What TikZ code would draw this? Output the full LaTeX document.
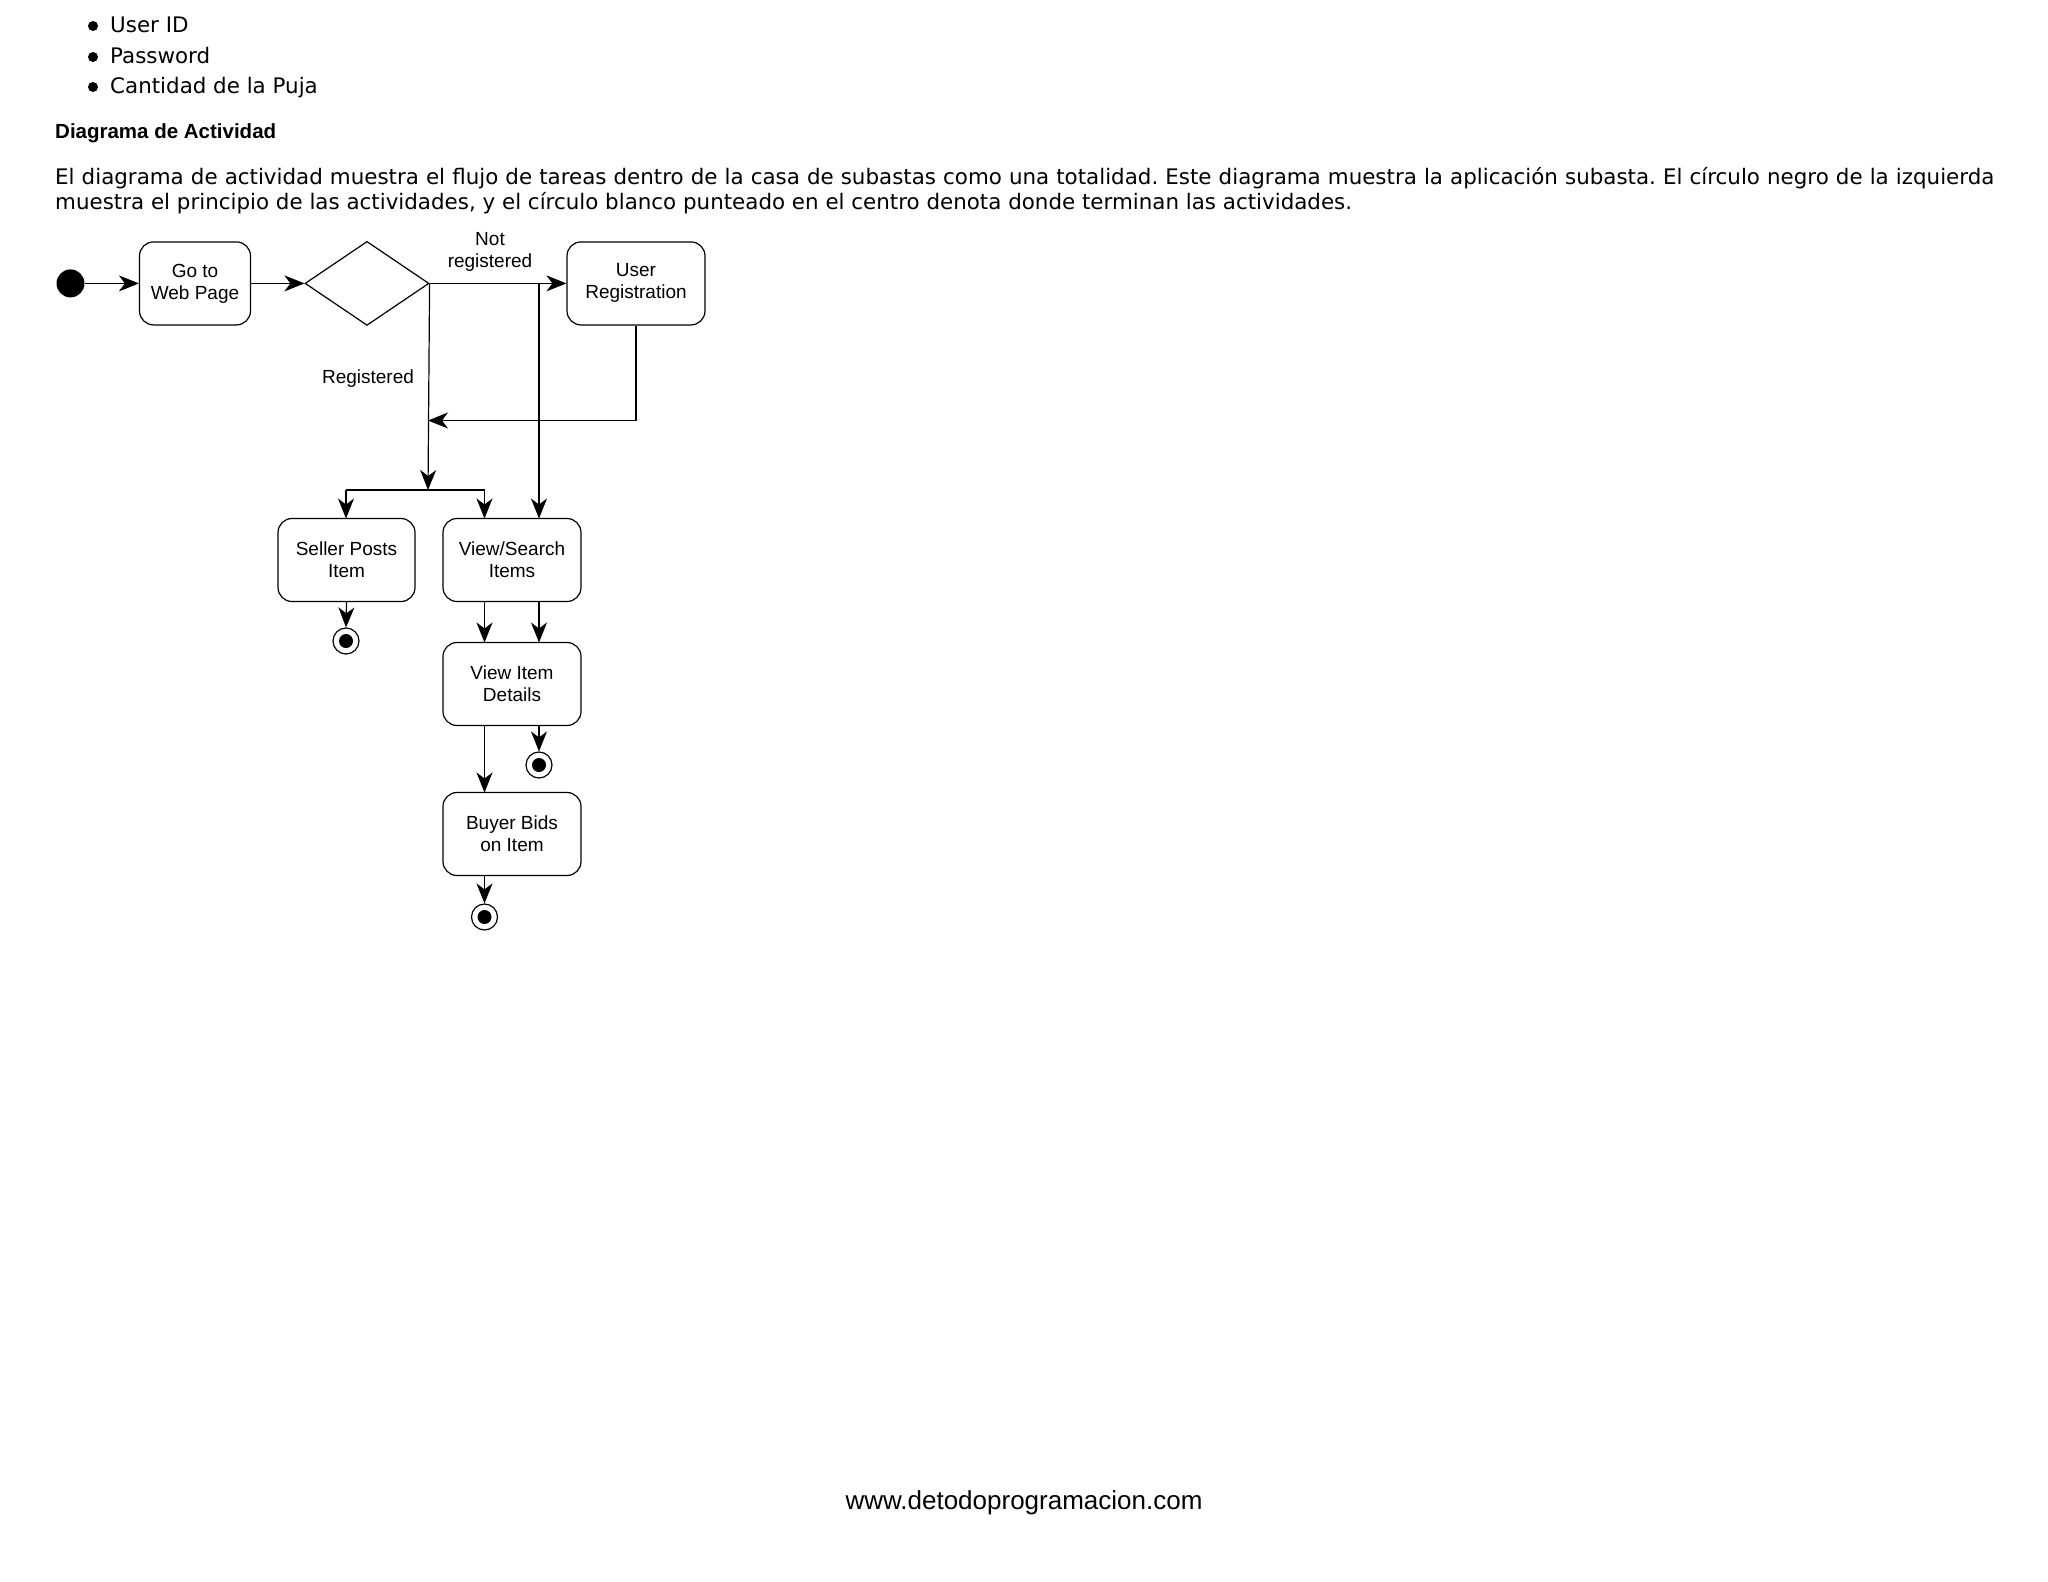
\documentclass[tikz,border=0pt]{standalone}
\usepackage{fontspec}
\setmainfont{DejaVu Sans}
\newfontfamily\arialf{Liberation Sans}
\usetikzlibrary{arrows.meta,shapes.geometric}
\frenchspacing
\begin{document}
\begin{tikzpicture}[x=1pt,y=-1pt,
  act/.style={draw,rounded corners=14pt,minimum width=111pt,minimum height=83pt,align=center,font=\arialf\fontsize{19}{22}\selectfont,line width=1.2pt,inner sep=0},
  flow/.style={line width=1.2pt,-{Stealth[length=20pt,width=16pt,inset=6pt]}},
  ln/.style={line width=1.2pt},
  body/.style={anchor=base west,inner sep=0,font=\fontsize{21.4}{25}\selectfont},
  lab/.style={font=\arialf\fontsize{19}{22}\selectfont,align=center,inner sep=0}]
\useasboundingbox (0,0) rectangle (2048,1582);
\fill[white] (0,0) rectangle (2048,1582);
% bullets
\foreach \t/\y [count=\i] in {User ID/32,Password/63,Cantidad de la Puja/93}{
  \fill (93,\y-6) circle (5);
  \node[body] (b\i) at (110,\y) {\t};
}
\node[anchor=base west,inner sep=0,font=\arialf\bfseries\fontsize{20.5}{24}\selectfont] (h) at (55,138) {Diagrama de Actividad};
\node[body] (p1) at (55,184) {\makebox[1939pt][s]{El diagrama de actividad muestra el flujo de tareas dentro de la casa de subastas como una totalidad. Este diagrama muestra la aplicación subasta. El círculo negro de la izquierda}};
\node[body] (p2) at (55,209) {muestra el principio de las actividades, y el círculo blanco punteado en el centro denota donde terminan las actividades.};
% diagram
\fill (70.5,283.4) circle (14);
\node[circle,inner sep=0,minimum size=28pt] (start) at (70.5,283.4) {};
\node[act] (go) at (195,283.4) {Go to\\Web Page};
\node[draw,diamond,line width=1.2pt,minimum width=124pt,minimum height=84pt,inner sep=0,aspect=1.48] (dec) at (367,283.4) {};
\node[act,minimum width=138pt] (reg) at (636,283.4) {User\\Registration};
\node[act,minimum width=137pt] (sell) at (346.5,560) {Seller Posts\\Item};
\node[act,minimum width=138pt] (view) at (512,560) {View/Search\\Items};
\node[act,minimum width=138pt] (det) at (512,684) {View Item\\Details};
\node[act,minimum width=138pt] (buy) at (512,834) {Buyer Bids\\on Item};
\foreach \n/\x/\y in {e1/346/641,e2/539/765,e3/484.5/917}{
  \node[draw,circle,line width=1.2pt,minimum size=26pt,inner sep=0] (\n) at (\x,\y) {};
  \fill (\x,\y) circle (7);
}
\draw[flow] (start) -- (go);
\draw[flow] (go) -- (dec.west);
\coordinate (r1) at (539,283.4);
\draw[flow] (dec.east) -- (reg.west);
\coordinate (bar) at (428,490);
\draw[flow] (dec.east) -- (bar);
\draw[flow] (reg.south) |- (428,420.5);
\draw[flow] (r1) -- (539,518.5);
\draw[ln] (346,490) -- (484.5,490);
\draw[flow] (346,490) -- (346,518.5);
\draw[flow] (484.5,490) -- (484.5,518.5);
\draw[flow] (sell.south) -- (e1.north);
\draw[flow] (484.5,601.5) -- (484.5,642.5);
\draw[flow] (539,601.5) -- (539,642.5);
\draw[flow] (539,725.5) -- (e2.north);
\draw[flow] (484.5,725.5) -- (484.5,792.5);
\draw[flow] (484.5,875.5) -- (e3.north);
\node[lab] (nr) at (490,252) {Not\\registered};
\node[lab] (rg) at (368,379) {Registered};
\node[anchor=center,inner sep=0,font=\arialf\fontsize{26}{30}\selectfont] (foot) at (1024,1503) {www.detodoprogramacion.com};
\end{tikzpicture}
\end{document}
